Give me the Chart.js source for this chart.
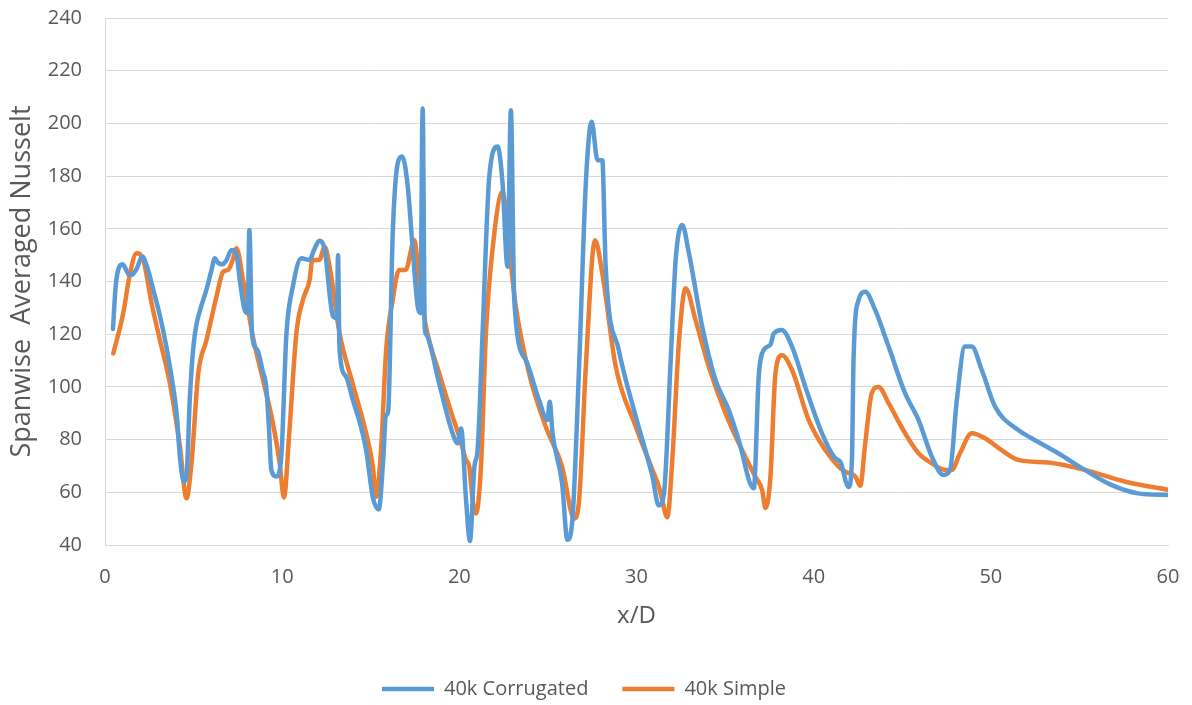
<!DOCTYPE html>
<html>
<head>
<meta charset="utf-8">
<script src="https://cdn.jsdelivr.net/npm/chart.js@4/dist/chart.umd.min.js"></script>
<style>
    html, body { margin: 0; padding: 0; background: #ffffff; }
    #wrap { width: 1192px; height: 705px; }
</style>
</head>
<body>
<div id="wrap"><canvas id="nusselt-chart" width="1192" height="705"></canvas></div>
<script>
// Spanwise averaged Nusselt number along the channel (x/D)
const corrugatedX = [0.45, 0.6, 0.8, 1.0, 1.3, 1.5, 1.8, 2.1, 2.4, 2.72, 3.1, 3.47, 3.8, 4.04, 4.25, 4.45, 4.6, 4.79, 5.0, 5.17,
    5.45, 5.73, 6.0, 6.2, 6.4, 6.6, 6.85, 7.14, 7.4, 7.6, 7.85, 8.05, 8.15, 8.3, 8.6, 8.9, 9.1, 9.25, 9.39, 9.67,
    9.95, 10.24, 10.6, 11.08, 11.55, 11.8, 12.1, 12.4, 12.86, 13.1, 13.15, 13.24, 13.6, 13.99, 14.4, 14.74, 15.12, 15.45, 15.7, 15.85,
    15.98, 16.24, 16.52, 16.77, 17.09, 17.37, 17.65, 17.8, 17.93, 18.05, 18.12, 18.87, 19.62, 19.9, 20.1, 20.38, 20.6, 20.85, 21.03, 21.31,
    21.69, 22.16, 22.44, 22.72, 22.91, 23.1, 23.75, 24.5, 24.97, 25.1, 25.26, 25.8, 26.1, 26.38, 26.76, 27.14, 27.47, 27.8, 28.07, 28.26,
    29.0, 29.96, 30.9, 31.25, 31.55, 31.93, 32.21, 32.58, 32.96, 33.71, 34.46, 35.21, 35.77, 36.62, 36.9, 37.18, 37.56, 37.75, 38.2, 38.78,
    39.53, 40.47, 41.22, 41.5, 41.97, 42.16, 42.25, 42.54, 42.91, 43.47, 44.23, 45.16, 45.92, 46.67, 47.32, 47.7, 48.08, 48.54, 48.92, 49.49,
    50.24, 51.55, 52.3, 53.8, 55.3, 56.8, 58.3, 60];
const corrugatedY = [122, 138, 145.5, 146.5, 143, 142.5, 145, 149.5, 145, 137, 127, 115, 102, 90, 72, 64, 66, 96, 116, 124,
    131, 137, 144, 148.8, 147, 146.5, 148, 152, 151, 141, 130, 128, 159.5, 120, 114, 106, 100, 85, 68.5, 66,
    73.5, 120, 138, 148.8, 148.2, 152, 155.5, 152, 127, 126, 150, 114, 104, 95, 86, 76, 58, 53.5, 72, 89,
    90.5, 158, 184.8, 187.4, 176, 152, 130.5, 128, 205.7, 122, 120, 101, 82.4, 78.6, 84.2, 57, 41.5, 69.7, 76, 120,
    179.8, 191.2, 177.3, 145.6, 205, 133, 110.2, 95, 87.4, 94.4, 82.4, 63.4, 42, 49.5, 107.7, 177.3, 200.6, 186, 186, 145.6,
    114, 88.7, 66, 55, 59.6, 110.2, 148.2, 161.4, 150.7, 122.8, 102.6, 91.2, 79.8, 61.5, 104, 114, 116, 120.3, 121.6, 115.3,
    100, 82.4, 72.9, 71.6, 62, 72.3, 110.2, 133, 136.1, 129.2, 115.3, 97.6, 87.4, 73.5, 66.6, 68.5, 95, 115.3, 115.3, 106.4,
    92.5, 83.6, 80.5, 74.8, 68.5, 62.8, 59.6, 59];

const simpleX = [0.47, 1.03, 1.41, 1.78, 2.16, 2.63, 3.1, 3.66, 4.23, 4.6, 4.88, 5.26, 5.73, 6.29, 6.67, 6.95, 7.2, 7.42, 7.79, 8.35,
    8.92, 9.48, 9.86, 10.1, 10.4, 10.8, 11.17, 11.55, 11.7, 12.1, 12.4, 12.68, 13.24, 13.99, 14.74, 15.12, 15.3, 15.58, 15.87, 16.24,
    16.6, 16.97, 17.46, 17.75, 18.12, 18.87, 19.62, 20.0, 20.38, 20.56, 20.75, 20.94, 21.22, 21.5, 21.87, 22.44, 22.82, 23.19, 23.94, 24.88,
    25.8, 26.48, 26.76, 27.14, 27.66, 28.07, 28.83, 29.96, 30.9, 31.27, 31.45, 31.74, 32.02, 32.39, 32.77, 33.33, 34.08, 35.02, 35.96, 36.71,
    37.09, 37.28, 37.56, 37.84, 38.21, 38.78, 39.72, 40.66, 41.41, 41.78, 42.35, 42.63, 42.91, 43.28, 43.66, 44.23, 45.16, 45.92, 46.67, 47.42,
    47.79, 48.26, 48.92, 49.67, 50.61, 51.55, 53.24, 55.3, 57.6, 60];
const simpleY = [112.7, 128, 143, 150.7, 148.2, 131.7, 117.8, 101.4, 77.3, 57.7, 71, 105, 117.8, 134.2, 143.7, 144.4, 148, 152.6, 140.6, 119,
    102.6, 86.2, 71, 58, 82.4, 120.3, 133, 140.6, 148.2, 148.2, 153.2, 145.6, 120.3, 101, 82.4, 69.7, 58.3, 76, 114, 133,
    144.4, 144.4, 155.7, 139.3, 122.8, 105, 88.7, 81, 72.3, 69.7, 57, 52, 69.7, 120.3, 152, 174.1, 152, 130.4, 105, 84.9,
    69.7, 50.1, 57, 107.7, 155.7, 143.1, 107.7, 84.9, 68.5, 62, 57, 50.5, 72.3, 116.5, 137.4, 125.4, 107.7, 90, 76, 65.9,
    60.9, 54, 65.9, 105, 112, 106.4, 87.4, 76, 69.7, 67.8, 66, 62.5, 78.6, 97.6, 100, 93.8, 82.4, 74.8, 71, 68.5,
    68.5, 74.8, 82.4, 80.5, 76, 72.3, 71.3, 68.5, 64, 61];

const seriesNames = ['40k Corrugated', '40k Simple'];
const yTicks = [40, 60, 80, 100, 120, 140, 160, 180, 200, 220, 240];
const xTicks = [0, 10, 20, 30, 40, 50, 60];

const textColor = '#595959';
const gridColor = '#d9d9d9';
const fontFamily = '"Open Sans", "Noto Sans", sans-serif';

function toPoints(xs, ys) {
    return xs.map((x, i) => ({ x: x, y: ys[i] }));
}

function makeDataset(label, points, color) {
    return {
        label: label,
        data: points,
        showLine: true,
        borderColor: color,
        backgroundColor: color,
        borderWidth: 4.5,
        borderCapStyle: 'round',
        borderJoinStyle: 'round',
        pointRadius: 0,
        cubicInterpolationMode: 'monotone'
    };
}

// keep the legend row low and spaced out at the bottom
const legendHeight = {
    id: 'legendHeight',
    beforeInit(chart) {
        if (!chart.legend) return;
        const fit = chart.legend.fit;
        chart.legend.fit = function () {
            fit.call(this);
            this.height = 60;
        };
    }
};

const ctx = document.getElementById('nusselt-chart').getContext('2d');
const nusseltChart = new Chart(ctx, {
    type: 'scatter',
    data: {
        datasets: [
            makeDataset(seriesNames[0], toPoints(corrugatedX, corrugatedY), '#5b9bd5'),
            makeDataset(seriesNames[1], toPoints(simpleX, simpleY), '#ed7d31')
        ]
    },
    options: {
        responsive: false,
        animation: false,
        layout: { padding: { top: 18, right: 24, bottom: 0, left: 0 } },
        plugins: {
            tooltip: { enabled: false },
            legend: {
                position: 'bottom',
                labels: {
                    usePointStyle: true,
                    pointStyle: 'line',
                    pointStyleWidth: 52,
                    padding: 34,
                    color: textColor,
                    font: { family: fontFamily, size: 20 }
                }
            }
        },
        scales: {
            x: {
                type: 'linear',
                min: 0,
                max: 60,
                afterBuildTicks: axis => { axis.ticks = xTicks.map(v => ({ value: v })); },
                afterFit: axis => {
                    axis.height = 100;
                    axis.paddingLeft = 0;
                    axis.paddingRight = 0;
                },
                grid: { display: false, drawTicks: false },
                border: { display: true, color: gridColor, width: 1 },
                ticks: { padding: 20, color: textColor, font: { family: fontFamily, size: 20 } },
                title: {
                    display: true,
                    text: 'x/D',
                    color: textColor,
                    font: { family: fontFamily, size: 24 },
                    padding: { top: 0, bottom: 14 }
                }
            },
            y: {
                min: 40,
                max: 240,
                afterBuildTicks: axis => { axis.ticks = yTicks.map(v => ({ value: v })); },
                afterFit: axis => {
                    axis.width = 105;
                    axis.paddingTop = 0;
                    axis.paddingBottom = 0;
                },
                grid: { color: gridColor, lineWidth: 1, drawTicks: false },
                border: { display: true, color: gridColor, width: 1 },
                ticks: { padding: 23, color: textColor, font: { family: fontFamily, size: 20 } },
                title: {
                    display: true,
                    text: 'Spanwise  Averaged Nusselt',
                    color: textColor,
                    font: { family: fontFamily, size: 27 },
                    padding: { top: 6, bottom: 0 }
                }
            }
        }
    },
    plugins: [legendHeight]
});
</script>
</body>
</html>
